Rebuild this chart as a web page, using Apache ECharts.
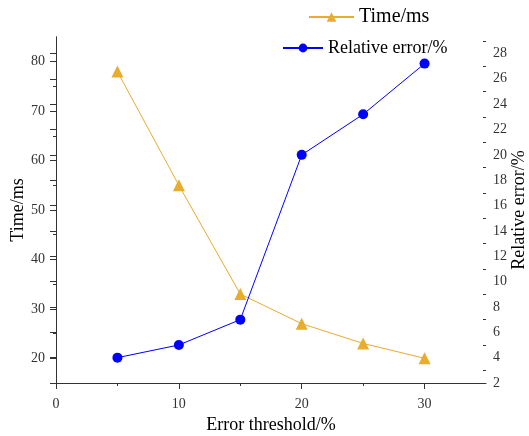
<!DOCTYPE html>
<html>
<head>
<meta charset="utf-8">
<script src="https://cdn.jsdelivr.net/npm/echarts@6/dist/echarts.min.js"></script>
<style>html,body{margin:0;padding:0;background:#fff}#c{width:529px;height:436px}</style>
</head>
<body>
<div id="c"></div>
<script>
const thresholds = [5, 10, 15, 20, 25, 30];
const timeMs = [78, 55, 33, 27, 23, 20];
const relError = [4, 5, 7, 20, 23.2, 27.2];
const xLabels = [0, 10, 20, 30];
const xMinor = [5, 15, 25];
const leftLabels = [20, 30, 40, 50, 60, 70, 80];
const leftMinor = [25, 35, 45, 55, 65, 75];
const rightLabels = [2, 4, 6, 8, 10, 12, 14, 16, 18, 20, 22, 24, 26, 28];
const rightMinor = [3, 5, 7, 9, 11, 13, 15, 17, 19, 21, 23, 25, 27, 29];

const FONT = '"Liberation Serif", "Times New Roman", serif';
const AX = '#333';
const GOLD = '#E8AC2E';
const BLUE = '#0000FF';

const chart = echarts.init(document.getElementById('c'), null, {renderer: 'canvas'});
const lbl = {fontFamily: FONT, fontSize: 14, color: '#333'};

chart.setOption({
  animation: false,
  backgroundColor: '#fff',
  grid: {left: 56, right: 43, top: 37, bottom: 53, containLabel: false, outerBoundsMode: 'none'},
  legend: [
    {data: ['Time/ms'], left: 308, top: 7, padding: 0, itemWidth: 45, itemHeight: 12, itemGap: 5,
     textStyle: {fontFamily: FONT, fontSize: 20, color: '#000'}},
    {data: ['Relative error/%'], left: 282, top: 39, padding: 0, itemWidth: 40, itemHeight: 11, itemGap: 5,
     textStyle: {fontFamily: FONT, fontSize: 18, color: '#000'}}
  ],
  xAxis: [
    {type: 'value', min: 0, max: 35, position: 'bottom',
     name: 'Error threshold/%', nameLocation: 'middle', nameGap: 33, nameMoveOverlap: false,
     nameTextStyle: {fontFamily: FONT, fontSize: 18, color: '#000'},
     axisLine: {show: true, lineStyle: {color: AX, width: 1}},
     axisTick: {show: true, inside: false, length: 6, customValues: xLabels, lineStyle: {color: AX}},
     axisLabel: {show: true, margin: 14, customValues: xLabels, ...lbl},
     splitLine: {show: false}},
    {type: 'value', min: 0, max: 35, position: 'bottom',
     axisLine: {show: false},
     axisTick: {show: true, inside: false, length: 3, customValues: xMinor, lineStyle: {color: AX}},
     axisLabel: {show: false}, splitLine: {show: false}}
  ],
  yAxis: [
    {type: 'value', min: 15, max: 85, position: 'left',
     name: 'Time/ms', nameLocation: 'middle', nameGap: 29, nameRotate: 90, nameMoveOverlap: false,
     nameTextStyle: {fontFamily: FONT, fontSize: 18, color: '#000'},
     axisLine: {show: true, lineStyle: {color: AX, width: 1}},
     axisTick: {show: true, inside: false, length: 6, customValues: leftLabels, lineStyle: {color: AX}},
     axisLabel: {show: true, margin: 11, customValues: leftLabels, ...lbl},
     splitLine: {show: false}},
    {type: 'value', min: 2, max: 29.3, position: 'right',
     name: 'Relative error/%', nameLocation: 'middle', nameGap: 24, nameRotate: 90, nameMoveOverlap: false,
     nameTextStyle: {fontFamily: FONT, fontSize: 18, color: '#000'},
     axisLine: {show: true, lineStyle: {color: AX, width: 1}},
     axisTick: {show: true, inside: true, length: 6, customValues: rightLabels, lineStyle: {color: AX}},
     axisLabel: {show: true, margin: 7, customValues: rightLabels, ...lbl},
     splitLine: {show: false}},
    {type: 'value', min: 15, max: 85, position: 'left',
     axisLine: {show: false},
     axisTick: {show: true, inside: false, length: 3, customValues: leftMinor, lineStyle: {color: AX}},
     axisLabel: {show: false}, splitLine: {show: false}},
    {type: 'value', min: 2, max: 29.3, position: 'right',
     axisLine: {show: false},
     axisTick: {show: true, inside: true, length: 3, customValues: rightMinor, lineStyle: {color: AX}},
     axisLabel: {show: false}, splitLine: {show: false}}
  ],
  series: [
    {name: 'Time/ms', type: 'line', xAxisIndex: 0, yAxisIndex: 0,
     data: thresholds.map((x, i) => [x, timeMs[i]]),
     symbol: 'triangle', symbolSize: 12,
     lineStyle: {color: GOLD, width: 1}, itemStyle: {color: GOLD}},
    {name: 'Relative error/%', type: 'line', xAxisIndex: 0, yAxisIndex: 1,
     data: thresholds.map((x, i) => [x, relError[i]]),
     symbol: 'circle', symbolSize: 10,
     lineStyle: {color: BLUE, width: 1}, itemStyle: {color: BLUE}}
  ]
});
</script>
</body>
</html>
